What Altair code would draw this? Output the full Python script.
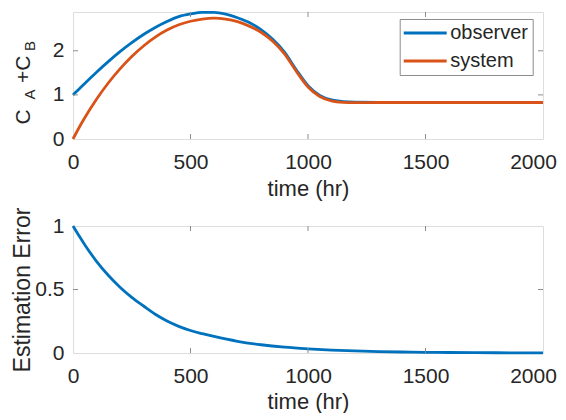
import altair as alt
import pandas as pd

# ---------------- data ----------------
time_top = [0, 25, 50, 100, 150, 200, 250, 300, 350, 400, 450, 500, 550, 600,
            650, 700, 750, 800, 850, 900, 950, 1000, 1050, 1100, 1150, 1200,
            1300, 1500, 1750, 2000]
observer = [1.00, 1.13, 1.26, 1.515, 1.755, 1.98, 2.185, 2.37, 2.53, 2.665,
            2.775, 2.835, 2.87, 2.87, 2.83, 2.75, 2.64, 2.48, 2.26, 1.97, 1.57,
            1.21, 0.99, 0.885, 0.848, 0.836, 0.832, 0.83, 0.83, 0.83]
system = [0.00, 0.25, 0.48, 0.90, 1.27, 1.59, 1.87, 2.11, 2.31, 2.47, 2.59,
          2.67, 2.72, 2.74, 2.72, 2.66, 2.56, 2.42, 2.215, 1.93, 1.535, 1.18,
          0.965, 0.865, 0.832, 0.824, 0.828, 0.828, 0.828, 0.828]

time_err = [0, 25, 50, 100, 150, 200, 250, 300, 350, 400, 450, 500, 550, 600,
            700, 800, 900, 1000, 1100, 1200, 1300, 1400, 1500, 1600, 1800, 2000]
error = [1.0, 0.925, 0.853, 0.722, 0.612, 0.518, 0.438, 0.37, 0.305, 0.252,
         0.21, 0.177, 0.152, 0.13, 0.092, 0.065, 0.046, 0.033, 0.023, 0.016,
         0.011, 0.0078, 0.0055, 0.004, 0.002, 0.001]

series_names = ["observer", "system"]
x_ticks = [0, 500, 1000, 1500, 2000]
x_inner_ticks = [500, 1000, 1500]
top_y_ticks = [0, 1, 2]
top_y_inner = [1, 2]
err_y_ticks = [0, 0.5, 1]
err_y_inner = [0.5]
ylabel_parts = ["C", "A", "+C", "B"]

# ---------------- style ----------------
FONT = "Liberation Sans"
TEXT = "#262626"
EDGE = "#8c8c8c"
BLUE = "#0072BD"
ORANGE = "#D95319"
W, H = 470, 127
TICK = 5

top_df = pd.DataFrame({
    "t": time_top + time_top,
    "v": observer + system,
    "series": [series_names[0]] * len(time_top) + [series_names[1]] * len(time_top),
})
err_df = pd.DataFrame({"t": time_err, "v": error})

xs = alt.Scale(domain=[0, 2000], nice=False, zero=False)


def x_axis(title_pad):
    # the last label is nudged left a little so that it stays inside the page
    return alt.Axis(values=x_ticks, format="d", tickSize=0, labelPadding=12,
                    labelFlush=False, domain=False, grid=False, title="time (hr)",
                    labelOffset={"condition": {"test": "datum.value == 2000",
                                               "value": -10}, "value": 0},
                    labelFontSize=21, titleFontSize=22, titlePadding=title_pad,
                    labelColor=TEXT, titleColor=TEXT, labelFont=FONT,
                    titleFont=FONT, titleFontWeight="normal")


def y_axis(vals, title=None):
    kw = dict(values=vals, format="~r", tickSize=0, labelPadding=9,
              labelFlush=False, domain=False, grid=False, labelFontSize=21,
              labelColor=TEXT, labelFont=FONT)
    if title:
        kw.update(title=title, titleFontSize=23, titleColor=TEXT, titleFont=FONT,
                  titleFontWeight="normal", titlePadding=0)
    else:
        kw.update(title=None)
    return alt.Axis(**kw)


def inner_ticks(ys, yvals, xaxis, yaxis):
    """Inward-pointing ticks on all four sides, MATLAB style."""
    xdf = pd.DataFrame({"t": x_inner_ticks})
    ydf = pd.DataFrame({"v": yvals})
    xq = alt.X("t:Q", scale=xs, axis=xaxis)
    yq = alt.Y("v:Q", scale=ys, axis=yaxis)
    bottom = alt.Chart(xdf).mark_rule(color=EDGE, strokeWidth=1).encode(
        x=xq, y=alt.value(H - TICK), y2=alt.value(H))
    top = alt.Chart(xdf).mark_rule(color=EDGE, strokeWidth=1).encode(
        x=xq, y=alt.value(0), y2=alt.value(TICK))
    left = alt.Chart(ydf).mark_rule(color=EDGE, strokeWidth=1).encode(
        y=yq, x=alt.value(0), x2=alt.value(TICK))
    right = alt.Chart(ydf).mark_rule(color=EDGE, strokeWidth=1).encode(
        y=yq, x=alt.value(W - TICK), x2=alt.value(W))
    return [bottom, top, left, right]


# ---------------- top panel ----------------
ys_top = alt.Scale(domain=[0, 2.88], nice=False, zero=False)
top_xaxis = x_axis(6)
top_yaxis = y_axis(top_y_ticks)

top_lines = alt.Chart(top_df).mark_line(strokeWidth=2.8, interpolate="monotone").encode(
    x=alt.X("t:Q", scale=xs, axis=top_xaxis),
    y=alt.Y("v:Q", scale=ys_top, axis=top_yaxis),
    color=alt.Color("series:N",
                    scale=alt.Scale(domain=series_names, range=[BLUE, ORANGE]),
                    legend=alt.Legend(title=None, orient="none", legendX=326.7, legendY=7,
                                      symbolType="M-3,0H3", symbolSize=205,
                                      symbolStrokeWidth=2.8, symbolOffset=11.5,
                                      labelFontSize=20, labelOffset=15,
                                      labelColor=TEXT, labelFont=FONT,
                                      strokeColor=EDGE, fillColor="white",
                                      padding=4, rowPadding=8,
                                      direction="vertical")),
)


def label_piece(s, x, y, size):
    return alt.Chart(pd.DataFrame({"s": [s]})).mark_text(
        angle=270, align="left", baseline="alphabetic", fontSize=size,
        font=FONT, color=TEXT).encode(text="s:N", x=alt.value(x), y=alt.value(y))


ylab = [
    label_piece(ylabel_parts[0], -43, 112.5, 21),
    label_piece(ylabel_parts[1], -38, 87.5, 15),
    label_piece(ylabel_parts[2], -43, 71, 21),
    label_piece(ylabel_parts[3], -38, 39, 15),
]

top = alt.layer(top_lines, *inner_ticks(ys_top, top_y_inner, top_xaxis, top_yaxis),
                *ylab).properties(width=W, height=H)

# ---------------- bottom panel ----------------
ys_err = alt.Scale(domain=[0, 1], nice=False, zero=False)
err_xaxis = x_axis(5)
err_yaxis = y_axis(err_y_ticks, "Estimation Error")
err_line = alt.Chart(err_df).mark_line(strokeWidth=2.8, interpolate="monotone",
                                       color=BLUE).encode(
    x=alt.X("t:Q", scale=xs, axis=err_xaxis),
    y=alt.Y("v:Q", scale=ys_err, axis=err_yaxis),
)
bottom = alt.layer(err_line, *inner_ticks(ys_err, err_y_inner, err_xaxis, err_yaxis)
                   ).properties(width=W, height=H)

chart = alt.vconcat(top, bottom, spacing=87, bounds="flush").properties(
    padding={"left": 3, "top": -2, "right": 0, "bottom": 0}
).configure_view(stroke=EDGE, strokeWidth=1).configure(background="white")

chart.save("out.html", embed_options={"renderer": "svg", "actions": False})
